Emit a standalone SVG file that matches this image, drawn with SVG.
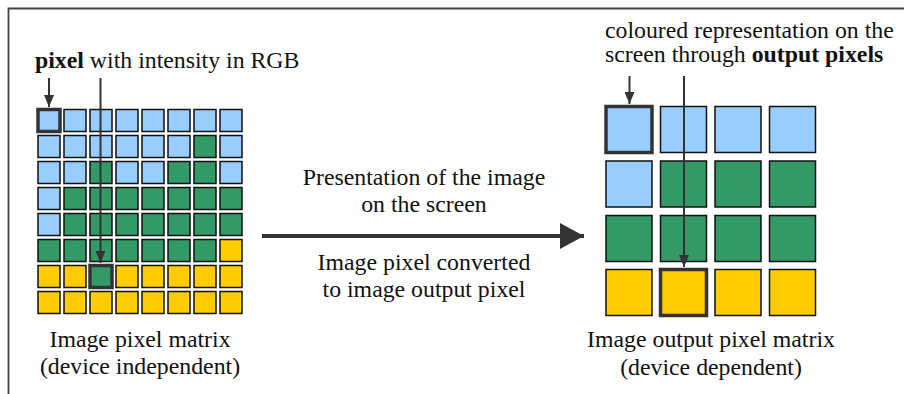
<svg xmlns="http://www.w3.org/2000/svg" width="904" height="394" viewBox="0 0 904 394">
<style>
text{font-family:"Liberation Serif","Times New Roman",serif;font-size:23.8px;fill:#111}
.b{fill:#99CCFF}.g{fill:#339966}.y{fill:#FFCC00}
.s rect{stroke:#111;stroke-width:1.5}
.L rect{width:22px;height:22px}
.R rect{width:46px;height:46px}
rect.h{stroke:#333;stroke-width:3.5}
.ln{stroke:#333;stroke-width:2;fill:none}
</style>
<defs>
<marker id="ah" viewBox="0 0 12 10" refX="12" refY="5" markerWidth="12" markerHeight="10" markerUnits="userSpaceOnUse" orient="auto"><path d="M0,0L12,5L0,10z" fill="#333"/></marker>
<marker id="big" viewBox="0 0 24 26" refX="24" refY="13" markerWidth="24" markerHeight="26" markerUnits="userSpaceOnUse" orient="auto"><path d="M0,0L24,13L0,26z" fill="#333"/></marker>
</defs>
<g id="frame"><path d="M8.5,394V8.5H904" stroke="#444" stroke-width="1.8" fill="none"/></g>
<g id="left-matrix" class="s L">
<rect class="b" x="38" y="109.5"/><rect class="b" x="64" y="109.5"/><rect class="b" x="90" y="109.5"/><rect class="b" x="116" y="109.5"/><rect class="b" x="142" y="109.5"/><rect class="b" x="168" y="109.5"/><rect class="b" x="194" y="109.5"/><rect class="b" x="220" y="109.5"/>
<rect class="b" x="38" y="135.5"/><rect class="b" x="64" y="135.5"/><rect class="b" x="90" y="135.5"/><rect class="b" x="116" y="135.5"/><rect class="b" x="142" y="135.5"/><rect class="b" x="168" y="135.5"/><rect class="g" x="194" y="135.5"/><rect class="b" x="220" y="135.5"/>
<rect class="b" x="38" y="161.5"/><rect class="b" x="64" y="161.5"/><rect class="g" x="90" y="161.5"/><rect class="b" x="116" y="161.5"/><rect class="b" x="142" y="161.5"/><rect class="g" x="168" y="161.5"/><rect class="g" x="194" y="161.5"/><rect class="b" x="220" y="161.5"/>
<rect class="b" x="38" y="187.5"/><rect class="g" x="64" y="187.5"/><rect class="g" x="90" y="187.5"/><rect class="g" x="116" y="187.5"/><rect class="g" x="142" y="187.5"/><rect class="g" x="168" y="187.5"/><rect class="g" x="194" y="187.5"/><rect class="g" x="220" y="187.5"/>
<rect class="b" x="38" y="213.5"/><rect class="g" x="64" y="213.5"/><rect class="g" x="90" y="213.5"/><rect class="g" x="116" y="213.5"/><rect class="g" x="142" y="213.5"/><rect class="g" x="168" y="213.5"/><rect class="g" x="194" y="213.5"/><rect class="g" x="220" y="213.5"/>
<rect class="g" x="38" y="239.5"/><rect class="g" x="64" y="239.5"/><rect class="g" x="90" y="239.5"/><rect class="g" x="116" y="239.5"/><rect class="g" x="142" y="239.5"/><rect class="g" x="168" y="239.5"/><rect class="g" x="194" y="239.5"/><rect class="y" x="220" y="239.5"/>
<rect class="y" x="38" y="265.5"/><rect class="y" x="64" y="265.5"/><rect class="g" x="90" y="265.5"/><rect class="y" x="116" y="265.5"/><rect class="y" x="142" y="265.5"/><rect class="y" x="168" y="265.5"/><rect class="y" x="194" y="265.5"/><rect class="y" x="220" y="265.5"/>
<rect class="y" x="38" y="291.5"/><rect class="y" x="64" y="291.5"/><rect class="y" x="90" y="291.5"/><rect class="y" x="116" y="291.5"/><rect class="y" x="142" y="291.5"/><rect class="y" x="168" y="291.5"/><rect class="y" x="194" y="291.5"/><rect class="y" x="220" y="291.5"/>
<rect class="b h" x="38" y="109.5"/>
<rect class="g h" x="90" y="265.5"/>
</g>
<g id="right-matrix" class="s R">
<rect class="b" x="606" y="106.5"/><rect class="b" x="660.5" y="106.5"/><rect class="b" x="715" y="106.5"/><rect class="b" x="769.5" y="106.5"/>
<rect class="b" x="606" y="161"/><rect class="g" x="660.5" y="161"/><rect class="g" x="715" y="161"/><rect class="g" x="769.5" y="161"/>
<rect class="g" x="606" y="215.5"/><rect class="g" x="660.5" y="215.5"/><rect class="g" x="715" y="215.5"/><rect class="g" x="769.5" y="215.5"/>
<rect class="y" x="606" y="269.5"/><rect class="y" x="660.5" y="269.5"/><rect class="y" x="715" y="269.5"/><rect class="y" x="769.5" y="269.5"/>
<rect class="b h" x="606" y="106.5"/>
<rect class="y h" x="660.5" y="269.5"/>
</g>
<g id="connectors">
<line class="ln" x1="49" y1="78" x2="49" y2="107" marker-end="url(#ah)"/>
<line class="ln" x1="100.5" y1="78" x2="100.5" y2="263" marker-end="url(#ah)"/>
<line class="ln" x1="629.5" y1="76" x2="629.5" y2="104" marker-end="url(#ah)"/>
<line class="ln" x1="684" y1="76" x2="684" y2="267" marker-end="url(#ah)"/>
<line x1="262" y1="236" x2="584" y2="236" stroke="#333" stroke-width="4" marker-end="url(#big)"/>
</g>
<g id="labels">
<text x="35" y="68"><tspan font-weight="bold">pixel</tspan> with intensity in RGB</text>
<text x="605" y="38">coloured representation on the</text>
<text x="605" y="62">screen through <tspan font-weight="bold">output pixels</tspan></text>
<text x="424" y="185" text-anchor="middle">Presentation of the image</text>
<text x="424" y="212" text-anchor="middle">on the screen</text>
<text x="424" y="270" text-anchor="middle">Image pixel converted</text>
<text x="424" y="297" text-anchor="middle">to image output pixel</text>
<text x="140" y="347" text-anchor="middle">Image pixel matrix</text>
<text x="140" y="374" text-anchor="middle">(device independent)</text>
<text x="711" y="347" text-anchor="middle">Image output pixel matrix</text>
<text x="711" y="375" text-anchor="middle">(device dependent)</text>
</g>
</svg>
